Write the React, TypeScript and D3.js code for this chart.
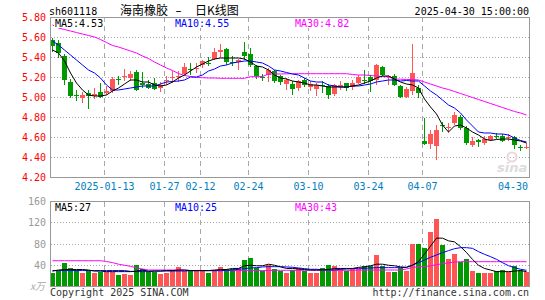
import React, { useEffect, useRef } from 'react';
import * as d3 from 'd3';

// trading days shown on the chart
const dates = [
  '2024-12-30', '2024-12-31', '2025-01-02', '2025-01-03', '2025-01-06', '2025-01-07', '2025-01-08', '2025-01-09', '2025-01-10', '2025-01-13',
  '2025-01-14', '2025-01-15', '2025-01-16', '2025-01-17', '2025-01-20', '2025-01-21', '2025-01-22', '2025-01-23', '2025-01-24', '2025-01-27',
  '2025-02-05', '2025-02-06', '2025-02-07', '2025-02-10', '2025-02-11', '2025-02-12', '2025-02-13', '2025-02-14', '2025-02-17', '2025-02-18',
  '2025-02-19', '2025-02-20', '2025-02-21', '2025-02-24', '2025-02-25', '2025-02-26', '2025-02-27', '2025-02-28', '2025-03-03', '2025-03-04',
  '2025-03-05', '2025-03-06', '2025-03-07', '2025-03-10', '2025-03-11', '2025-03-12', '2025-03-13', '2025-03-14', '2025-03-17', '2025-03-18',
  '2025-03-19', '2025-03-20', '2025-03-21', '2025-03-24', '2025-03-25', '2025-03-26', '2025-03-27', '2025-03-28', '2025-03-31', '2025-04-01',
  '2025-04-02', '2025-04-03', '2025-04-07', '2025-04-08', '2025-04-09', '2025-04-10', '2025-04-11', '2025-04-14', '2025-04-15', '2025-04-16',
  '2025-04-17', '2025-04-18', '2025-04-21', '2025-04-22', '2025-04-23', '2025-04-24', '2025-04-25', '2025-04-28', '2025-04-29', '2025-04-30',
];

const opens = [
  5.57, 5.54, 5.41, 5.15, 5.02, 4.99, 5.035, 5.01, 5.05, 5.04,
  5.06, 5.18, 5.20, 5.19, 5.25, 5.145, 5.13, 5.14, 5.09, 5.16,
  5.19, 5.20, 5.23, 5.28, 5.28, 5.32, 5.345, 5.38, 5.45, 5.48,
  5.35, 5.35, 5.45, 5.43, 5.31, 5.20, 5.22, 5.26, 5.21, 5.13,
  5.13, 5.09, 5.17, 5.10, 5.08, 5.12, 5.11, 5.03, 5.10, 5.14,
  5.10, 5.14, 5.175, 5.20, 5.17, 5.30, 5.20, 5.21, 5.11, 5.00,
  5.06, 5.09, 4.56, 4.53, 4.51, 4.72, 4.69, 4.74, 4.80, 4.69,
  4.52, 4.57, 4.54, 4.57, 4.61, 4.61, 4.595, 4.60, 4.505, 4.50,
];
const highs = [
  5.59, 5.57, 5.43, 5.18, 5.07, 5.05, 5.07, 5.09, 5.14, 5.11,
  5.20, 5.21, 5.28, 5.26, 5.27, 5.25, 5.17, 5.19, 5.15, 5.21,
  5.26, 5.26, 5.34, 5.34, 5.34, 5.37, 5.40, 5.49, 5.53, 5.49,
  5.41, 5.38, 5.55, 5.49, 5.32, 5.23, 5.29, 5.27, 5.22, 5.19,
  5.16, 5.17, 5.19, 5.16, 5.14, 5.16, 5.13, 5.13, 5.16, 5.14,
  5.17, 5.22, 5.27, 5.22, 5.33, 5.31, 5.22, 5.23, 5.12, 5.10,
  5.53, 5.12, 4.79, 4.67, 4.72, 4.75, 4.74, 4.85, 4.82, 4.71,
  4.60, 4.58, 4.61, 4.62, 4.64, 4.63, 4.63, 4.61, 4.52, 4.54,
];
const lows = [
  5.45, 5.39, 5.12, 4.99, 4.96, 4.94, 4.88, 4.98, 4.99, 5.02,
  5.04, 5.12, 5.16, 5.16, 5.06, 5.09, 5.08, 5.07, 5.05, 5.12,
  5.14, 5.15, 5.21, 5.22, 5.24, 5.29, 5.31, 5.37, 5.39, 5.32,
  5.31, 5.27, 5.37, 5.30, 5.18, 5.16, 5.15, 5.14, 5.12, 5.07,
  5.02, 5.06, 5.10, 5.06, 5.01, 5.04, 4.98, 5.01, 5.07, 5.06,
  5.07, 5.13, 5.13, 5.05, 5.12, 5.21, 5.12, 5.11, 4.99, 4.99,
  5.02, 4.99, 4.52, 4.48, 4.37, 4.65, 4.64, 4.72, 4.67, 4.52,
  4.50, 4.50, 4.52, 4.56, 4.58, 4.55, 4.56, 4.48, 4.46, 4.48,
];
const closes = [
  5.51, 5.44, 5.17, 5.01, 5.01, 5.02, 5.005, 5.03, 5.00, 5.06,
  5.18, 5.175, 5.21, 5.23, 5.07, 5.12, 5.09, 5.08, 5.12, 5.17,
  5.20, 5.21, 5.30, 5.27, 5.29, 5.36, 5.34, 5.45, 5.47, 5.35,
  5.345, 5.37, 5.41, 5.32, 5.21, 5.195, 5.27, 5.16, 5.15, 5.17,
  5.08, 5.16, 5.12, 5.13, 5.12, 5.115, 5.02, 5.12, 5.12, 5.09,
  5.14, 5.20, 5.17, 5.165, 5.32, 5.22, 5.21, 5.12, 5.00, 5.08,
  5.24, 5.04, 4.53, 4.63, 4.67, 4.715, 4.70, 4.82, 4.69, 4.54,
  4.56, 4.55, 4.58, 4.61, 4.605, 4.56, 4.60, 4.52, 4.50, 4.505,
];
// volume, 万手
const volumes = [
  26, 29, 44.8, 34.8, 31.0, 26.0, 29.8, 26.0, 26.7, 26.7,
  26.7, 21.6, 23.5, 21.6, 40.4, 33.5, 27.9, 27.9, 23.5, 26.0,
  31.0, 36.0, 29.1, 29.1, 29.1, 29.1, 26.0, 31.0, 36.0, 32.3,
  32.3, 34.0, 49.9, 54.3, 34.0, 29.8, 40.4, 32.3, 29.8, 26.0,
  31.0, 34.0, 29.8, 26.0, 26.0, 34.0, 40.4, 38.5, 32.3, 29.8,
  32.3, 32.3, 38.5, 38.5, 59.2, 38.5, 27.9, 27.9, 34.0, 29.8,
  80.0, 80.0, 73.1, 103.0, 127.0, 78.1, 51.8, 61.2, 46.8, 51.8,
  29.8, 26.0, 26.0, 26.0, 29.8, 31.0, 27.9, 38.5, 31.0, 27.9,
];

// moving averages as drawn on the chart
const ma5 = [
  5.47, 5.44, 5.36, 5.24, 5.14, 5.07, 5.02, 5.01, 5.01, 5.02,
  5.06, 5.09, 5.13, 5.17, 5.17, 5.15, 5.15, 5.12, 5.11, 5.12,
  5.15, 5.19, 5.22, 5.26, 5.30, 5.33, 5.36, 5.38, 5.39, 5.39,
  5.39, 5.39, 5.38, 5.35, 5.31, 5.30, 5.27, 5.22, 5.19, 5.18,
  5.16, 5.15, 5.14, 5.12, 5.12, 5.11, 5.10, 5.10, 5.10, 5.10,
  5.11, 5.12, 5.14, 5.16, 5.19, 5.21, 5.21, 5.18, 5.15, 5.13,
  5.12, 5.09, 4.98, 4.90, 4.83, 4.72, 4.65, 4.71, 4.72, 4.69,
  4.65, 4.62, 4.58, 4.565, 4.575, 4.58, 4.58, 4.57, 4.56, 4.54,
];
const ma10 = [
  5.56, 5.52, 5.47, 5.42, 5.37, 5.32, 5.27, 5.24, 5.19, 5.12,
  5.07, 5.07, 5.08, 5.09, 5.10, 5.11, 5.11, 5.11, 5.13, 5.15,
  5.155, 5.16, 5.17, 5.20, 5.20, 5.22, 5.26, 5.28, 5.31, 5.32,
  5.34, 5.35, 5.36, 5.36, 5.35, 5.34, 5.31, 5.27, 5.26, 5.245,
  5.23, 5.22, 5.19, 5.16, 5.15, 5.15, 5.12, 5.11, 5.10, 5.10,
  5.11, 5.11, 5.12, 5.13, 5.15, 5.16, 5.17, 5.17, 5.16, 5.165,
  5.16, 5.16, 5.11, 5.06, 5.02, 4.97, 4.92, 4.89, 4.84, 4.77,
  4.71, 4.65, 4.64, 4.64, 4.63, 4.63, 4.62, 4.59, 4.565, 4.55,
];
const ma30 = [
  5.72, 5.69, 5.675, 5.66, 5.645, 5.63, 5.615, 5.60, 5.575, 5.545,
  5.515, 5.50, 5.48, 5.46, 5.44, 5.41, 5.385, 5.35, 5.32, 5.29,
  5.265, 5.235, 5.215, 5.205, 5.195, 5.193, 5.19, 5.19, 5.187, 5.187,
  5.187, 5.187, 5.187, 5.203, 5.203, 5.205, 5.23, 5.23, 5.23, 5.232,
  5.233, 5.233, 5.233, 5.233, 5.233, 5.233, 5.233, 5.233, 5.233, 5.233,
  5.225, 5.22, 5.22, 5.215, 5.21, 5.205, 5.20, 5.18, 5.178, 5.175,
  5.175, 5.17, 5.15, 5.13, 5.11, 5.09, 5.075, 5.055, 5.035, 5.015,
  4.995, 4.975, 4.955, 4.935, 4.915, 4.895, 4.875, 4.855, 4.84, 4.82,
];
const volMa5 = [
  29, 31, 32, 32, 32, 32, 31, 29, 29, 28,
  28, 28, 28, 28, 29, 31, 29, 29, 29, 30,
  30, 31, 31, 30, 30, 30, 30, 31, 32, 32,
  34, 34, 39, 40, 39, 39, 42, 40, 37, 34,
  34, 33, 32, 31, 31, 31, 32, 34, 34, 34,
  34, 36, 37, 39, 42, 42, 40, 39, 37, 36,
  40, 47, 61, 76, 91, 91, 86, 84, 75, 64,
  51, 40, 34, 31, 28, 28, 28, 29, 30, 28,
];
const volMa10 = [
  30, 30, 30, 30, 30, 30, 30, 30, 30, 30,
  30, 30, 30, 28.5, 28, 28, 28, 29.2, 29.2, 29.2,
  29.2, 29.2, 29.2, 29.8, 29.8, 29.8, 29.8, 29.8, 29.8, 30.5,
  31.1, 32.4, 33.6, 34.9, 35.5, 36.8, 37.3, 37.3, 37.3, 36.8,
  36.2, 34.9, 33.6, 32.4, 32.4, 31.7, 31.1, 31.1, 32.4, 33,
  33.6, 34.2, 34.2, 34.9, 35.5, 35.5, 35.5, 35.5, 35.5, 36.2,
  40.4, 44.8, 49.9, 54.9, 59.3, 63.7, 67.5, 71.2, 73.1, 73.1,
  71.8, 65.6, 60.6, 56.2, 51.2, 44.8, 39.2, 35.5, 32.4, 30.5,
];
const volMa30 = [
  48.5, 48.5, 48.5, 48.5, 48.5, 48.5, 48.5, 48.5, 48.5, 47,
  45, 42, 40, 38, 35, 33, 31, 31, 31, 31,
  31, 31, 31, 30, 30, 30, 30, 30, 30, 30,
  30, 30, 30, 30, 30, 30, 30, 30.5, 30.5, 30.5,
  30.5, 30.5, 30.5, 30.5, 30.5, 30.5, 30.5, 30.5, 30.5, 30.5,
  30.5, 31, 31, 31, 31, 31, 31, 31, 31, 33,
  36, 37, 37.5, 39, 41, 43, 44.5, 46, 46.7, 46.7,
  46.7, 46.7, 46.7, 46.7, 46.7, 46.7, 46.7, 46.7, 46.7, 46.7,
];

const priceTicks = [5.8, 5.6, 5.4, 5.2, 5.0, 4.8, 4.6, 4.4, 4.2];
const volTicks = [160, 120, 80, 40];
const gridDates = ['2025-01-13', '2025-01-27', '2025-02-12', '2025-02-24', '2025-03-10', '2025-03-24', '2025-04-07'];
const gridLabels = ['2025-01-13', '01-27', '02-12', '02-24', '03-10', '03-24', '04-07'];
const lastLabel = '04-30';

const App: React.FC = () => {
  const svgRef = useRef<SVGSVGElement>(null);

  useEffect(() => {
    if (!svgRef.current) return;
    const svg = d3.select(svgRef.current);
    svg.selectAll('*').remove();

    const mono = '"DejaVu Sans Mono", monospace';
    const RED = '#ff5555';
    const GREEN = '#009900';
    const GRID = '#a8a8a8';
    const AXIS = '#999';

    const pTop = 17, pBottom = 177;
    const vTop = 201.5, vBottom = 286.5;

    const x = d3.scaleBand<string>().domain(dates).range([49.5, 529.5]);
    const cx = (d: string) => x(d)! + 3;
    const y = d3.scaleLinear().domain([4.2, 5.8]).range([pBottom, pTop]);
    const yv = d3.scaleLinear().domain([0, 160]).range([vBottom, vTop]);

    const bars = dates.map((d, i) => ({
      date: d, o: opens[i], h: highs[i], l: lows[i], c: closes[i], v: volumes[i],
    }));
    const color = (b: any) => (b.c >= b.o ? RED : GREEN);

    svg.append('rect').attr('width', 545).attr('height', 300).attr('fill', '#fff');

    // price grid
    const pg = svg.append('g').attr('shape-rendering', 'crispEdges');
    pg.selectAll('line.h')
      .data(priceTicks.slice(1, -1))
      .enter().append('line')
      .attr('x1', 51).attr('x2', 529)
      .attr('y1', d => Math.round(y(d)) + 0.5).attr('y2', d => Math.round(y(d)) + 0.5)
      .attr('stroke', GRID).attr('stroke-dasharray', '1,2');
    pg.selectAll('line.v')
      .data(gridDates)
      .enter().append('line')
      .attr('x1', d => x(d)! + 1).attr('x2', d => x(d)! + 1)
      .attr('y1', pTop).attr('y2', pBottom)
      .attr('stroke', GRID).attr('stroke-dasharray', '5,4');

    // volume grid
    const vg = svg.append('g').attr('shape-rendering', 'crispEdges');
    vg.selectAll('line.h')
      .data(volTicks.slice(1))
      .enter().append('line')
      .attr('x1', 51).attr('x2', 529)
      .attr('y1', d => Math.floor(yv(d)) + 0.5).attr('y2', d => Math.floor(yv(d)) + 0.5)
      .attr('stroke', GRID).attr('stroke-dasharray', '1,2');
    vg.selectAll('line.v')
      .data(gridDates)
      .enter().append('line')
      .attr('x1', d => x(d)! + 1).attr('x2', d => x(d)! + 1)
      .attr('y1', vTop).attr('y2', vBottom)
      .attr('stroke', GRID).attr('stroke-dasharray', '5,4');

    // sina watermark
    const wm = svg.append('g');
    wm.append('circle').attr('cx', 512).attr('cy', 157).attr('r', 4.5)
      .attr('fill', 'none').attr('stroke', '#ecd6d6').attr('stroke-width', 2);
    wm.append('text').attr('x', 497).attr('y', 172)
      .style('font-family', '"DejaVu Sans", sans-serif').style('font-size', '13px')
      .style('font-style', 'italic').style('font-weight', 'bold')
      .attr('fill', '#dcdcdc').text('sina');

    // candles
    const cg = svg.append('g').attr('shape-rendering', 'crispEdges');
    cg.selectAll('line.wick')
      .data(bars)
      .enter().append('line')
      .attr('x1', d => cx(d.date)).attr('x2', d => cx(d.date))
      .attr('y1', d => Math.round(y(d.h))).attr('y2', d => Math.round(y(d.l)))
      .attr('stroke', color);
    cg.selectAll('rect.body')
      .data(bars)
      .enter().append('rect')
      .attr('x', d => x(d.date)! + 0.5)
      .attr('width', 5)
      .attr('y', d => Math.round(y(Math.max(d.o, d.c))))
      .attr('height', d => Math.max(1, Math.round(Math.abs(y(d.o) - y(d.c)))))
      .attr('fill', color);

    // volume bars
    cg.selectAll('rect.vol')
      .data(bars)
      .enter().append('rect')
      .attr('x', d => x(d.date)! + 0.5)
      .attr('width', 5)
      .attr('y', d => Math.round(yv(d.v)))
      .attr('height', d => 286 - Math.round(yv(d.v)))
      .attr('fill', color);

    // MA lines
    const drawLine = (vals: number[], sc: d3.ScaleLinear<number, number>, stroke: string) => {
      const line = d3.line<number>()
        .x((_, i) => cx(dates[i]))
        .y(v => sc(v));
      svg.append('path').datum(vals)
        .attr('d', line)
        .attr('fill', 'none')
        .attr('stroke', stroke)
        .attr('stroke-width', 1);
    };
    drawLine(ma30, y, '#ff00ff');
    drawLine(ma10, y, '#0000ff');
    drawLine(ma5, y, '#000000');
    drawLine(volMa30, yv, '#ff00ff');
    drawLine(volMa10, yv, '#0000ff');
    drawLine(volMa5, yv, '#000000');

    // panel borders
    const bg = svg.append('g').attr('shape-rendering', 'crispEdges');
    bg.append('rect').attr('x', 50.5).attr('y', 17.5).attr('width', 479).attr('height', 160)
      .attr('fill', 'none').attr('stroke', AXIS);
    bg.append('rect').attr('x', 50.5).attr('y', vTop).attr('width', 479).attr('height', 85)
      .attr('fill', 'none').attr('stroke', AXIS);

    const txt = (tx: number, ty: number, s: string, fill: string, anchor = 'start', size = 10, family = mono) =>
      svg.append('text').attr('x', tx).attr('y', ty)
        .attr('text-anchor', anchor)
        .style('font-family', family).style('font-size', `${size}px`)
        .attr('fill', fill).text(s);

    // legend with a white box behind, so grid lines don't cross it
    const legend = (tx: number, ty: number, s: string, fill: string) => {
      svg.append('rect').attr('x', tx - 1).attr('y', ty - 8.5)
        .attr('width', s.length * 6.02 + 2).attr('height', 10).attr('fill', '#fff');
      txt(tx, ty, s, fill);
    };

    // price axis labels
    priceTicks.forEach(t => txt(46, y(t) + 4, t.toFixed(2), '#ff0000', 'end'));
    // volume axis labels
    volTicks.forEach(t => txt(46, yv(t) + 3.5, String(t), '#999', 'end'));
    txt(45, 290, 'x万', '#aaa', 'end', 10, '"Noto Sans CJK SC", sans-serif').style('font-style', 'italic');

    // date labels
    gridDates.forEach((d, i) => txt(x(d)! + 1, 190, gridLabels[i], '#0080c0', 'middle'));
    txt(528, 190, lastLabel, '#0080c0', 'end');

    // header
    txt(49, 15, 'sh601118', '#000');
    txt(120, 15, '海南橡胶', '#000', 'start', 12, '"Noto Sans CJK SC", sans-serif');
    txt(178.5, 15, '–', '#000', 'middle', 12, '"DejaVu Sans", sans-serif');
    txt(195, 15, '日K线图', '#000', 'start', 12, '"Noto Sans CJK SC", sans-serif');
    txt(529, 15, '2025-04-30 15:00:00', '#000', 'end');

    // MA legends
    legend(55, 26.5, 'MA5:4.53', '#000');
    legend(175, 26.5, 'MA10:4.55', '#0000ff');
    legend(295, 26.5, 'MA30:4.82', '#ff00ff');
    legend(55, 210.5, 'MA5:27', '#000');
    legend(175, 210.5, 'MA10:25', '#0000ff');
    legend(295, 210.5, 'MA30:43', '#ff00ff');

    // footer
    txt(50, 295.5, 'Copyright 2025 SINA.COM', '#333');
    txt(529, 295.5, 'http://finance.sina.com.cn', '#333', 'end');
  }, []);

  return (
    <svg
      ref={svgRef}
      width={545}
      height={300}
      style={{ position: 'absolute', left: 0, top: 0, display: 'block' }}
    />
  );
};

export default App;
